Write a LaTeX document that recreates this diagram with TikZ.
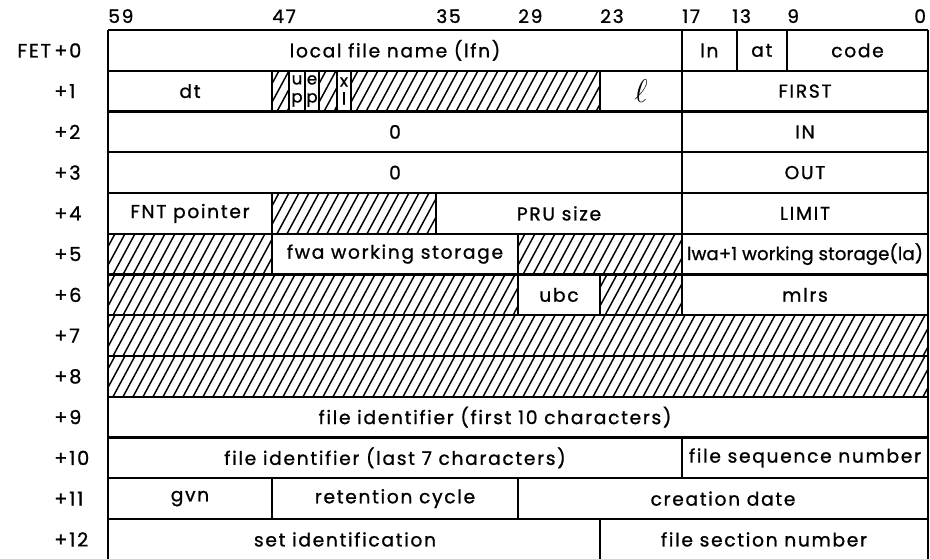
\documentclass[tikz,border=0pt]{standalone}
\usepackage{graphicx}
\usepackage{fontspec}
\setmainfont{Poppins}[LetterSpace=9,FakeBold=1]
\newfontfamily\tightfont{Poppins}[LetterSpace=1,FakeBold=1]
\newcommand\hatchrect[4]{%
  \begin{scope}
    \clip (#1,#2) rectangle (#3,#4);
    \pgfmathsetmacro\hn{int(ceil((#3-#1+40)/10))}
    \foreach \i in {0,...,\hn}{
      \draw[hatchline] ({#1-25+10*\i},#4) -- ++(22,{-(#4-#2)});
    }
  \end{scope}}
\begin{document}
\begin{tikzpicture}[x=0.75pt,y=-0.75pt,
  cellline/.style={line width=1.6pt},
  hatchline/.style={line width=1.1pt},
  lbl/.style={inner sep=0pt, font=\fontsize{14}{16}\selectfont},
  bitlbl/.style={inner sep=0pt, anchor=base west, font=\fontsize{14}{16}\selectfont},
  rowlbl/.style={inner sep=0pt, anchor=west, font=\fontsize{14.5}{16}\selectfont},
  tinylbl/.style={inner sep=0pt, align=center, font=\fontsize{12.5}{13.5}\selectfont},
]
\useasboundingbox (0,0) rectangle (930,559);

% hatched areas
\hatchrect{272}{70.75}{289}{111.5}
\hatchrect{319}{70.75}{337}{111.5}
\hatchrect{351}{70.75}{600}{111.5}
\hatchrect{272}{193}{436}{233.75}
\hatchrect{108}{233.75}{272}{274.5}
\hatchrect{518}{233.75}{682}{274.5}
\hatchrect{108}{274.5}{518}{315.25}
\hatchrect{600}{274.5}{682}{315.25}
\hatchrect{108}{315.25}{928}{356}
\hatchrect{108}{356}{928}{396.75}

% horizontal lines
\foreach \yy in {30,70.75,111.5,152.25,193,233.75,274.5,315.25,356,396.75,437.5,478.25,519}{
  \draw[cellline] (108,\yy) -- (928,\yy);
}
% outer verticals
\draw[cellline] (108,30) -- (108,562);
\draw[cellline] (928,30) -- (928,562);
% row 0
\foreach \xx in {682,736.7,787}{\draw[cellline] (\xx,30) -- (\xx,70.75);}
% row 1
\foreach \xx in {272,289,305,319,337,351,600,682}{\draw[cellline] (\xx,70.75) -- (\xx,111.5);}
% rows 2,3
\draw[cellline] (682,111.5) -- (682,193);
% row 4
\foreach \xx in {272,436,682}{\draw[cellline] (\xx,193) -- (\xx,233.75);}
% row 5
\foreach \xx in {272,518,682}{\draw[cellline] (\xx,233.75) -- (\xx,274.5);}
% row 6
\foreach \xx in {518,600,682}{\draw[cellline] (\xx,274.5) -- (\xx,315.25);}
% row 10
\draw[cellline] (682,437.5) -- (682,478.25);
% row 11
\foreach \xx in {272,518}{\draw[cellline] (\xx,478.25) -- (\xx,519);}
% row 12
\draw[cellline] (600,519) -- (600,562);

% bit numbers
\node[bitlbl] (b59) at (108,23) {59};
\node[bitlbl] (b47) at (272,23) {47};
\node[bitlbl] (b35) at (436,23) {35};
\node[bitlbl] (b29) at (518,23) {29};
\node[bitlbl] (b23) at (600,23) {23};
\node[bitlbl] (b17) at (682,23) {17};
\node[bitlbl] (b13) at (732,23) {13};
\node[bitlbl] (b9) at (787,23) {9};
\node[bitlbl] (b0) at (914,23) {0};

% row labels
\node[rowlbl] (r0) at (54,50.4) {\llap{FET\,}+0};
\node[rowlbl] (r1) at (54,91.1) {+1};
\node[rowlbl] (r2) at (54,131.9) {+2};
\node[rowlbl] (r3) at (54,172.6) {+3};
\node[rowlbl] (r4) at (54,213.4) {+4};
\node[rowlbl] (r5) at (54,254.1) {+5};
\node[rowlbl] (r6) at (54,294.9) {+6};
\node[rowlbl] (r7) at (54,335.6) {+7};
\node[rowlbl] (r8) at (54,376.4) {+8};
\node[rowlbl] (r9) at (54,417.1) {+9};
\node[rowlbl] (r10) at (54,457.9) {+10};
\node[rowlbl] (r11) at (54,498.6) {+11};
\node[rowlbl] (r12) at (54,539.4) {+12};

% row 0
\node[lbl] (lfn) at (395,50.4) {local file name (lfn)};
\node[lbl] (ln) at (709.3,50.4) {ln};
\node[lbl] (at) at (761.8,50.4) {at};
\node[lbl] (code) at (857.5,50.4) {code};
% row 1
\node[lbl] (dt) at (190,91.1) {dt};
\node[tinylbl] (up) at (297,91) {u\\p};
\node[tinylbl] (ep) at (312,91) {e\\p};
\node[tinylbl] (xl) at (344,91) {x\\l};
\node[lbl] (ell) at (641,91.1) {\scalebox{1.7}{$\ell$}};
\node[lbl] (first) at (805,91.1) {FIRST};
% rows 2,3
\node[lbl] (z2) at (395,131.9) {0};
\node[lbl] (in) at (805,131.9) {IN};
\node[lbl] (z3) at (395,172.6) {0};
\node[lbl] (out) at (805,172.6) {OUT};
% row 4
\node[lbl] (fnt) at (190,213.4) {FNT pointer};
\node[lbl] (pru) at (559,213.4) {PRU size};
\node[lbl] (limit) at (805,213.4) {LIMIT};
% row 5
\node[lbl] (fwa) at (395,254.1) {fwa working storage};
\node[lbl, font=\fontsize{13.5}{16}\tightfont] (lwa) at (805,254.1) {lwa+1 working storage(la)};
% row 6
\node[lbl] (ubc) at (559,294.9) {ubc};
\node[lbl] (mlrs) at (805,294.9) {mlrs};
% row 9
\node[lbl] (fid1) at (495,417.1) {file identifier (first 10 characters)};
% row 10
\node[lbl] (fid2) at (395,457.9) {file identifier (last 7 characters)};
\node[lbl] (fsn) at (805,457.9) {file sequence number};
% row 11
\node[lbl] (gvn) at (190,498.6) {gvn};
\node[lbl] (ret) at (395,498.6) {retention cycle};
\node[lbl] (cre) at (723,498.6) {creation date};
% row 12
\node[lbl] (setid) at (345,539.4) {set identification};
\node[lbl] (fsec) at (764,539.4) {file section number};
\end{tikzpicture}
\end{document}
